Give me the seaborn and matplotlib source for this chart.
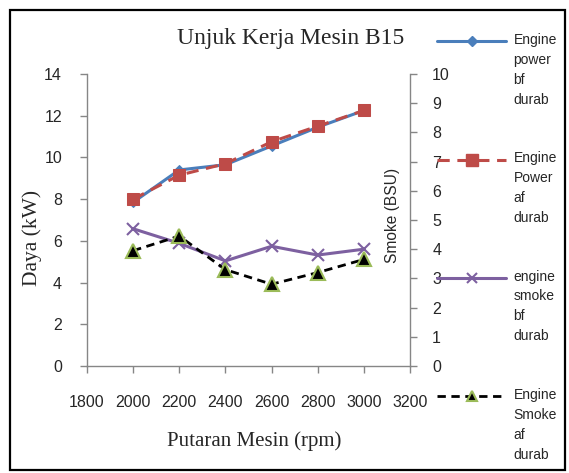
import numpy as np
import pandas as pd
import matplotlib
matplotlib.use("Agg")
import matplotlib.pyplot as plt
import seaborn as sns
from matplotlib.lines import Line2D
from matplotlib.legend_handler import HandlerLine2D
from matplotlib.patches import Rectangle

# ---- data ----
rpm = [2000, 2200, 2400, 2600, 2800, 3000]
power_bf = [7.85, 9.4, 9.65, 10.55, 11.45, 12.25]
power_af = [8.0, 9.15, 9.7, 10.75, 11.5, 12.25]
smoke_bf = [4.7, 4.2, 3.6, 4.1, 3.8, 4.0]
smoke_af = [3.95, 4.45, 3.3, 2.8, 3.2, 3.65]
labels = ["Engine\npower\nbf\ndurab", "Engine\nPower\naf\ndurab",
          "engine\nsmoke\nbf\ndurab", "Engine\nSmoke\naf\ndurab"]
xticks = [1800, 2000, 2200, 2400, 2600, 2800, 3000, 3200]

df = pd.DataFrame({"rpm": rpm, "pbf": power_bf, "paf": power_af,
                   "sbf": smoke_bf, "saf": smoke_af})

sns.set_style("white")
plt.rcParams["font.family"] = ["Liberation Sans", "DejaVu Sans"]

W, H = 569, 473
fig = plt.figure(figsize=(W / 100, H / 100), dpi=100)
L, R, T, B = 87, 410, 74, 366
ax = fig.add_axes([L / W, 1 - B / H, (R - L) / W, (B - T) / H])
ax2 = ax.twinx()

c_blue = "#4A7EBB"
c_red = "#BE4B48"
c_purp = "#7D60A0"
c_green = "#9BBB59"

sns.lineplot(data=df, x="rpm", y="pbf", ax=ax, color=c_blue, lw=2.2,
             marker="D", markersize=5, markeredgecolor=c_blue)
sns.lineplot(data=df, x="rpm", y="paf", ax=ax, color=c_red, lw=2.2,
             marker="s", markersize=9, markeredgecolor=c_red,
             dashes=False, linestyle=(0, (4, 2.5)))
sns.lineplot(data=df, x="rpm", y="sbf", ax=ax2, color=c_purp, lw=2.2,
             marker="x", markersize=9, markeredgewidth=1.5, markeredgecolor=c_purp)
sns.lineplot(data=df, x="rpm", y="saf", ax=ax2, color="black", lw=2.0,
             marker="^", markersize=9.5, markerfacecolor="black",
             markeredgecolor=c_green, markeredgewidth=1.5,
             linestyle=(0, (3, 2)))

ax.set_xlim(1800, 3200)
ax.set_ylim(0, 14)
ax2.set_ylim(0, 10)
ax.set_xticks(xticks)
ax.set_yticks(range(0, 15, 2))
ax2.set_yticks(range(0, 11))

spine_c = "#868686"
for a in (ax, ax2):
    for s in a.spines.values():
        s.set_color(spine_c)
        s.set_linewidth(1.0)
    a.spines["top"].set_visible(False)
ax.spines["right"].set_visible(False)
ax2.spines["left"].set_visible(False)
ax2.spines["bottom"].set_visible(False)

ax.tick_params(axis="x", direction="out", length=5, width=1, color=spine_c,
               labelsize=11.5, pad=16, bottom=True)
ax.tick_params(axis="y", direction="out", length=5, width=1, color=spine_c,
               labelsize=11.5, pad=13, left=True)
ax2.tick_params(axis="y", direction="out", length=5, width=1, color=spine_c,
                labelsize=11.5, pad=11, right=True)
ax.grid(False)
ax2.grid(False)

serif = ["Liberation Serif", "DejaVu Serif"]
ax.set_xlabel("Putaran Mesin (rpm)", family=serif, fontsize=15)
ax.xaxis.set_label_coords((254 - L) / (R - L), (B - 431) / (B - T))
ax.set_ylabel("Daya (kW)", family=serif, fontsize=15.5)
ax.yaxis.set_label_coords((42 - L) / (R - L), (B - 238) / (B - T))
ax2.set_ylabel("")
fig.text(393 / W, 1 - 215 / H, "Smoke (BSU)", rotation=90, ha="center",
         va="center", fontsize=11.2)

fig.text(291 / W, 1 - 44 / H, "Unjuk Kerja Mesin B15", family=serif,
         fontsize=17, ha="center", va="baseline")

# legend
class TopHandler(HandlerLine2D):
    def __init__(self, shift, **kw):
        super().__init__(**kw)
        self.shift = shift

    def create_artists(self, legend, orig_handle, xdescent, ydescent,
                       width, height, fontsize, trans):
        arts = super().create_artists(legend, orig_handle, xdescent, ydescent,
                                      width, height, fontsize, trans)
        for a in arts:
            a.set_ydata(np.asarray(a.get_ydata()) + self.shift)
        return arts

handles = [
    Line2D([], [], color=c_blue, lw=2.2, marker="D", markersize=5),
    Line2D([], [], color=c_red, lw=2.2, marker="s", markersize=8,
           linestyle=(0, (4, 2.5))),
    Line2D([], [], color=c_purp, lw=2.2, marker="x", markersize=7,
           markeredgewidth=1.5),
    Line2D([], [], color="black", lw=2.0, marker="^", markersize=7,
           markerfacecolor="black", markeredgecolor=c_green,
           markeredgewidth=1.5, linestyle=(0, (3, 2))),
]
shift = 21
leg = fig.legend(handles, labels, loc="upper left",
                 bbox_to_anchor=(437 / W, 1 - 33 / H), frameon=False,
                 fontsize=10, handlelength=5.0, handletextpad=0.5,
                 labelspacing=3.2, borderpad=0, borderaxespad=0,
                 handler_map={h: TopHandler(shift, numpoints=1) for h in handles})
for t in leg.get_texts():
    t.set_linespacing(1.54)

fig.patches.append(Rectangle((10 / W, 1 - 470 / H), 555 / W, 460 / H,
                             transform=fig.transFigure, fill=False,
                             edgecolor="black", lw=1.6))

fig.savefig("out.png", dpi=100)
